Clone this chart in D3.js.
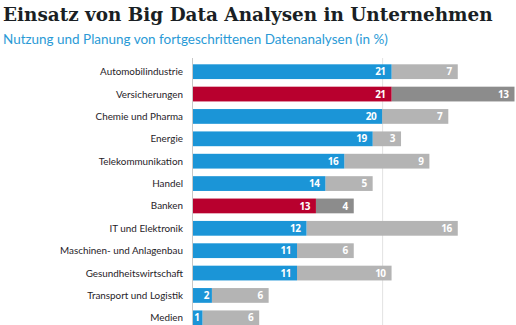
<!DOCTYPE html>
<html><head><meta charset="utf-8">
<script src="https://cdn.jsdelivr.net/npm/d3@7"></script>
<style>body{margin:0;background:#fff;} svg{display:block;}</style>
</head><body>
<script>
const categories = ["Automobilindustrie","Versicherungen","Chemie und Pharma","Energie","Telekommunikation","Handel","Banken","IT und Elektronik","Maschinen- und Anlagenbau","Gesundheitswirtschaft","Transport und Logistik","Medien"];
const nutzung = [21,21,20,19,16,14,13,12,11,11,2,1];
const planung = [7,13,7,3,9,5,4,16,6,10,6,6];
const highlighted = ["Versicherungen","Banken"];
const gridTicks = [20];
const title = "Einsatz von Big Data Analysen in Unternehmen";
const subtitle = "Nutzung und Planung von fortgeschrittenen Datenanalysen (in %)";

const W = 516, H = 325;
const svg = d3.select("body").append("svg").attr("width", W).attr("height", H);

const x = d3.scaleLinear().domain([0, 34]).range([193, 514.5]);
const y = d3.scaleBand().domain(categories).range([60.5, 329]).paddingInner(0.34).paddingOuter(0.17);

// title
const t = svg.append("text").attr("x", 3).attr("y", 21).text(title)
  .attr("font-family", "DejaVu Serif").attr("font-weight", "bold").attr("font-size", 20).attr("fill", "#1a1f24");
let tw = t.node().getComputedTextLength();
t.attr("font-size", 20 * 490 / tw);
const s = svg.append("text").attr("x", 3).attr("y", 44).text(subtitle)
  .attr("font-family", "Lato").attr("font-size", 13).attr("fill", "#2a9ad6");
let sw = s.node().getComputedTextLength();
s.attr("font-size", 13 * 385 / sw);

// grid
svg.selectAll(".grid").data(gridTicks).join("line")
  .attr("x1", d => x(d) + 0.5).attr("x2", d => x(d) + 0.5)
  .attr("y1", 58).attr("y2", H).attr("stroke", "#e2e2e2").attr("stroke-width", 1);
svg.append("line").attr("x1", x(0) - 0.5).attr("x2", x(0) - 0.5).attr("y1", 58).attr("y2", H)
  .attr("stroke", "#c8c8c8").attr("stroke-width", 1);

const rows = categories.map((c, i) => ({c, n: nutzung[i], p: planung[i], hl: highlighted.includes(c)}));
const g = svg.selectAll(".row").data(rows).join("g");

g.append("rect").attr("x", d => x(d.n)).attr("y", d => y(d.c)).attr("height", y.bandwidth())
  .attr("width", d => x(d.n + d.p) - x(d.n)).attr("fill", d => d.hl ? "#8c8c8c" : "#b4b4b4");
g.append("rect").attr("x", x(0)).attr("y", d => y(d.c)).attr("height", y.bandwidth())
  .attr("width", d => x(d.n) - x(0)).attr("fill", d => d.hl ? "#b8002e" : "#1b95d7");

g.append("text").attr("x", d => x(d.n) - (d.n < 3 ? 3 : 6)).attr("y", d => y(d.c) + y.bandwidth()/2)
  .attr("dy", "0.36em").attr("text-anchor", "end").attr("fill", "#fff").attr("font-weight", "bold")
  .attr("font-family", "Open Sans").attr("font-size", 10).attr("letter-spacing", -0.5).text(d => d.n);
g.append("text").attr("x", d => x(d.n + d.p) - 6).attr("y", d => y(d.c) + y.bandwidth()/2)
  .attr("dy", "0.36em").attr("text-anchor", "end").attr("fill", "#fff").attr("font-weight", "bold")
  .attr("font-family", "Open Sans").attr("font-size", 10).attr("letter-spacing", -0.5).text(d => d.p);

const labels = g.append("text").attr("x", 183).attr("y", d => y(d.c) + y.bandwidth()/2).attr("dy", "0.36em")
  .attr("text-anchor", "end").attr("fill", "#1f2328").attr("font-family", "Lato")
  .attr("font-size", 11).text(d => d.c);
const ref = labels.filter(d => d.c === "Maschinen- und Anlagenbau").node();
const lw = ref.getComputedTextLength();
labels.attr("font-size", 11 * 123 / lw);
</script>
</body></html>
